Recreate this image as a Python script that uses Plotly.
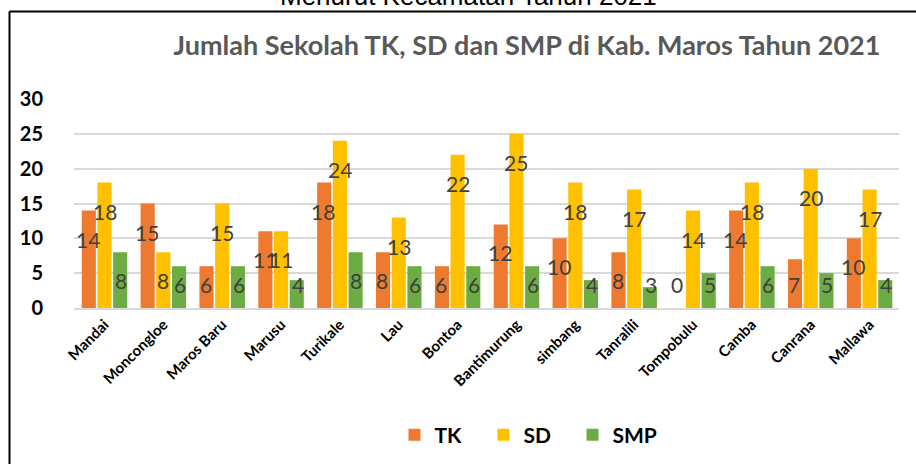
import plotly.graph_objects as go

kecamatan = ["Mandai", "Moncongloe", "Maros Baru", "Marusu", "Turikale", "Lau", "Bontoa",
             "Bantimurung", "simbang", "Tanralili", "Tompobulu", "Camba", "Canrana", "Mallawa"]
tk = [14, 15, 6, 11, 18, 8, 6, 12, 10, 8, 0, 14, 7, 10]
sd = [18, 8, 15, 11, 24, 13, 22, 25, 18, 17, 14, 18, 20, 17]
smp = [8, 6, 6, 4, 8, 6, 6, 6, 4, 3, 5, 6, 5, 4]
y_ticks = [0, 5, 10, 15, 20, 25, 30]

series = [("TK", tk, "#EE7A30"), ("SD", sd, "#FFC000"), ("SMP", smp, "#6DAC45")]

W, H = 916, 464
ML, MR, MT, MB = 74, 17, 99, 156
PW, PH = W - ML - MR, H - MT - MB


def py(p):
    return (MT + PH - p) / PH


def px(p):
    return (p - ML) / PW


fig = go.Figure()
for name, vals, col in series:
    fig.add_trace(go.Bar(name=name, x=kecamatan, y=vals, marker=dict(color=col, line=dict(width=0))))

# data labels placed a fixed distance below the top of each bar (Excel style)
annos = []
offsets = [-16.5, 0, 16.5]
for (name, vals, col), dx in zip(series, offsets):
    for cat, v in zip(kecamatan, vals):
        annos.append(dict(x=cat, y=max(v - 4.1, 3.4), xref="x", yref="y", text=str(v),
                          showarrow=False, xshift=dx,
                          font=dict(family="Lato, Open Sans, sans-serif", size=21, color="#404040")))

annos.append(dict(x=px(468), y=py(-4), xref="paper", yref="paper",
                  text="Menurut Kecamatan Tahun 2021", showarrow=False, yanchor="middle",
                  font=dict(family="Liberation Sans, Arial, sans-serif", size=26, color="#000000")))

fig.update_layout(
    width=W, height=H,
    margin=dict(l=ML, r=MR, t=MT, b=MB, autoexpand=False),
    paper_bgcolor="white", plot_bgcolor="white",
    barmode="group", bargap=0.2, bargroupgap=0.1,
    annotations=annos,
    title=dict(text="<b>Jumlah Sekolah TK, SD dan SMP di Kab. Maros Tahun 2021</b>",
               x=527 / W, xanchor="center", xref="container",
               y=1 - 46 / H, yanchor="middle", yref="container",
               font=dict(family="Lato, Open Sans, sans-serif", size=27, color="#595959")),
    showlegend=True,
    legend=dict(orientation="h", x=px(528), xanchor="center",
                y=py(435), yanchor="middle",
                font=dict(family="Lato, Open Sans, sans-serif", size=21, color="#000000", weight="bold"),
                entrywidth=44, itemsizing="constant"),
    font=dict(family="Lato, Open Sans, sans-serif"),
)
# frame border (top and left edges visible in the cropped reference)
fig.add_shape(type="line", xref="paper", yref="paper",
              x0=px(9.5), x1=px(930), y0=py(11.5), y1=py(11.5),
              line=dict(color="#000000", width=2))
fig.add_shape(type="line", xref="paper", yref="paper",
              x0=px(9.5), x1=px(9.5), y0=py(11.5), y1=py(480),
              line=dict(color="#000000", width=2))

fig.update_yaxes(range=[0, 30], tickvals=y_ticks, showgrid=True, gridcolor="#D9D9D9", gridwidth=1.5,
                 zeroline=False, showline=False, ticks="", ticklabelstandoff=30, automargin=False,
                 tickfont=dict(family="Lato, Open Sans, sans-serif", size=20, color="#000000", weight="bold"))
fig.update_xaxes(tickangle=-45, showline=True, linecolor="#D9D9D9", linewidth=2, ticks="", automargin=False,
                 tickfont=dict(family="Lato, Open Sans, sans-serif", size=15, color="#000000", weight="bold"))

fig.write_html("out.html", config={"displayModeBar": False},
               post_script="document.body.style.margin='0';document.body.style.overflow='hidden';")
